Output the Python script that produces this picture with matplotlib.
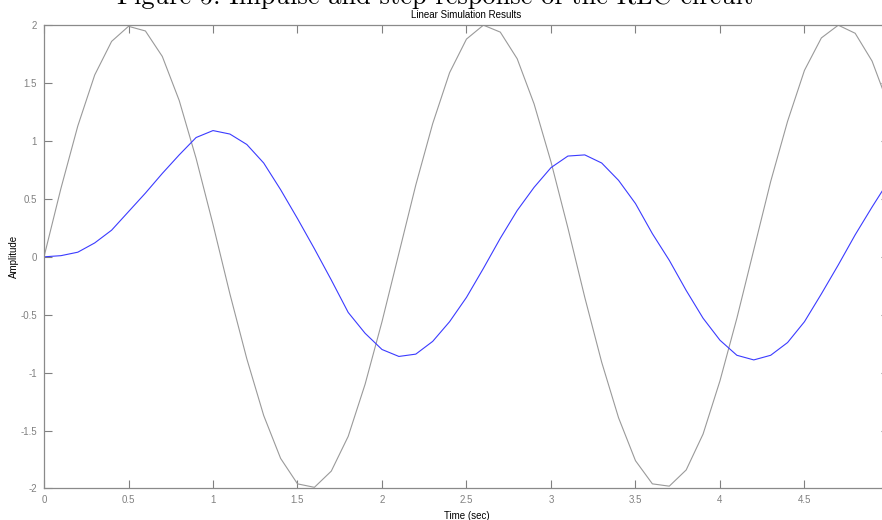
import matplotlib
matplotlib.use("Agg")
import matplotlib.pyplot as plt

# sample times (0.1 s step)
t = [round(0.1 * i, 1) for i in range(51)]

# impulse response (grey)
impulse = [0.00, 0.59, 1.13, 1.57, 1.86, 1.99, 1.95, 1.73, 1.35, 0.85,
           0.28, -0.32, -0.88, -1.37, -1.74, -1.96, -1.99, -1.85, -1.55, -1.10,
           -0.56, 0.03, 0.62, 1.15, 1.59, 1.88, 2.00, 1.94, 1.71, 1.32,
           0.82, 0.25, -0.35, -0.91, -1.39, -1.76, -1.96, -1.98, -1.84, -1.53,
           -1.07, -0.53, 0.06, 0.65, 1.17, 1.61, 1.89, 2.00, 1.93, 1.69,
           1.30]

# step response (blue)
step = [0.00, 0.01, 0.04, 0.12, 0.23, 0.39, 0.55, 0.72, 0.88, 1.03,
        1.09, 1.06, 0.97, 0.81, 0.58, 0.33, 0.07, -0.20, -0.48, -0.66,
        -0.80, -0.86, -0.84, -0.73, -0.56, -0.35, -0.10, 0.16, 0.40, 0.60,
        0.77, 0.87, 0.88, 0.81, 0.66, 0.46, 0.20, -0.03, -0.29, -0.53,
        -0.72, -0.85, -0.89, -0.85, -0.74, -0.56, -0.32, -0.07, 0.19, 0.43,
        0.66]

xticks = [0, 0.5, 1, 1.5, 2, 2.5, 3, 3.5, 4, 4.5]
yticks = [-2, -1.5, -1, -0.5, 0, 0.5, 1, 1.5, 2]

fig = plt.figure(figsize=(8.82, 5.2), dpi=100)
ax = fig.add_axes([0.0499, 0.0606, 0.958, 0.891])

ax.plot(t, impulse, color="#9a9a9a", lw=0.8)
ax.plot(t, step, color="#3b3bff", lw=0.8)

ax.set_xlim(0, 5)
ax.set_ylim(-2, 2)
ax.set_xticks(xticks)
ax.set_xticklabels([("%g" % v) for v in xticks])
ax.set_yticks(yticks)
ax.set_yticklabels([("%g" % v) for v in yticks])

ax.tick_params(direction="in", length=6, width=0.8, colors="#808080",
               labelsize=7, top=True, right=True, pad=5)
for s in ax.spines.values():
    s.set_color("#8a8a8a")
    s.set_linewidth(0.9)

lab_font = dict(family="Liberation Sans", size=7, color="black")
ax.set_title("Linear Simulation Results", fontdict=lab_font, pad=5)
ax.set_xlabel("Time (sec)", fontdict=lab_font, labelpad=4)
ax.set_ylabel("Amplitude", fontdict=lab_font, labelpad=1)
for lbl in ax.get_xticklabels() + ax.get_yticklabels():
    lbl.set_family("Liberation Sans")

fig.text(0.4937, 1 - 4 / 520, "Figure 5: Impulse and step response of the RLC circuit",
         ha="center", va="baseline", fontsize=19, family=["cmr10", "DejaVu Serif"])

fig.savefig("out.png", dpi=100)
